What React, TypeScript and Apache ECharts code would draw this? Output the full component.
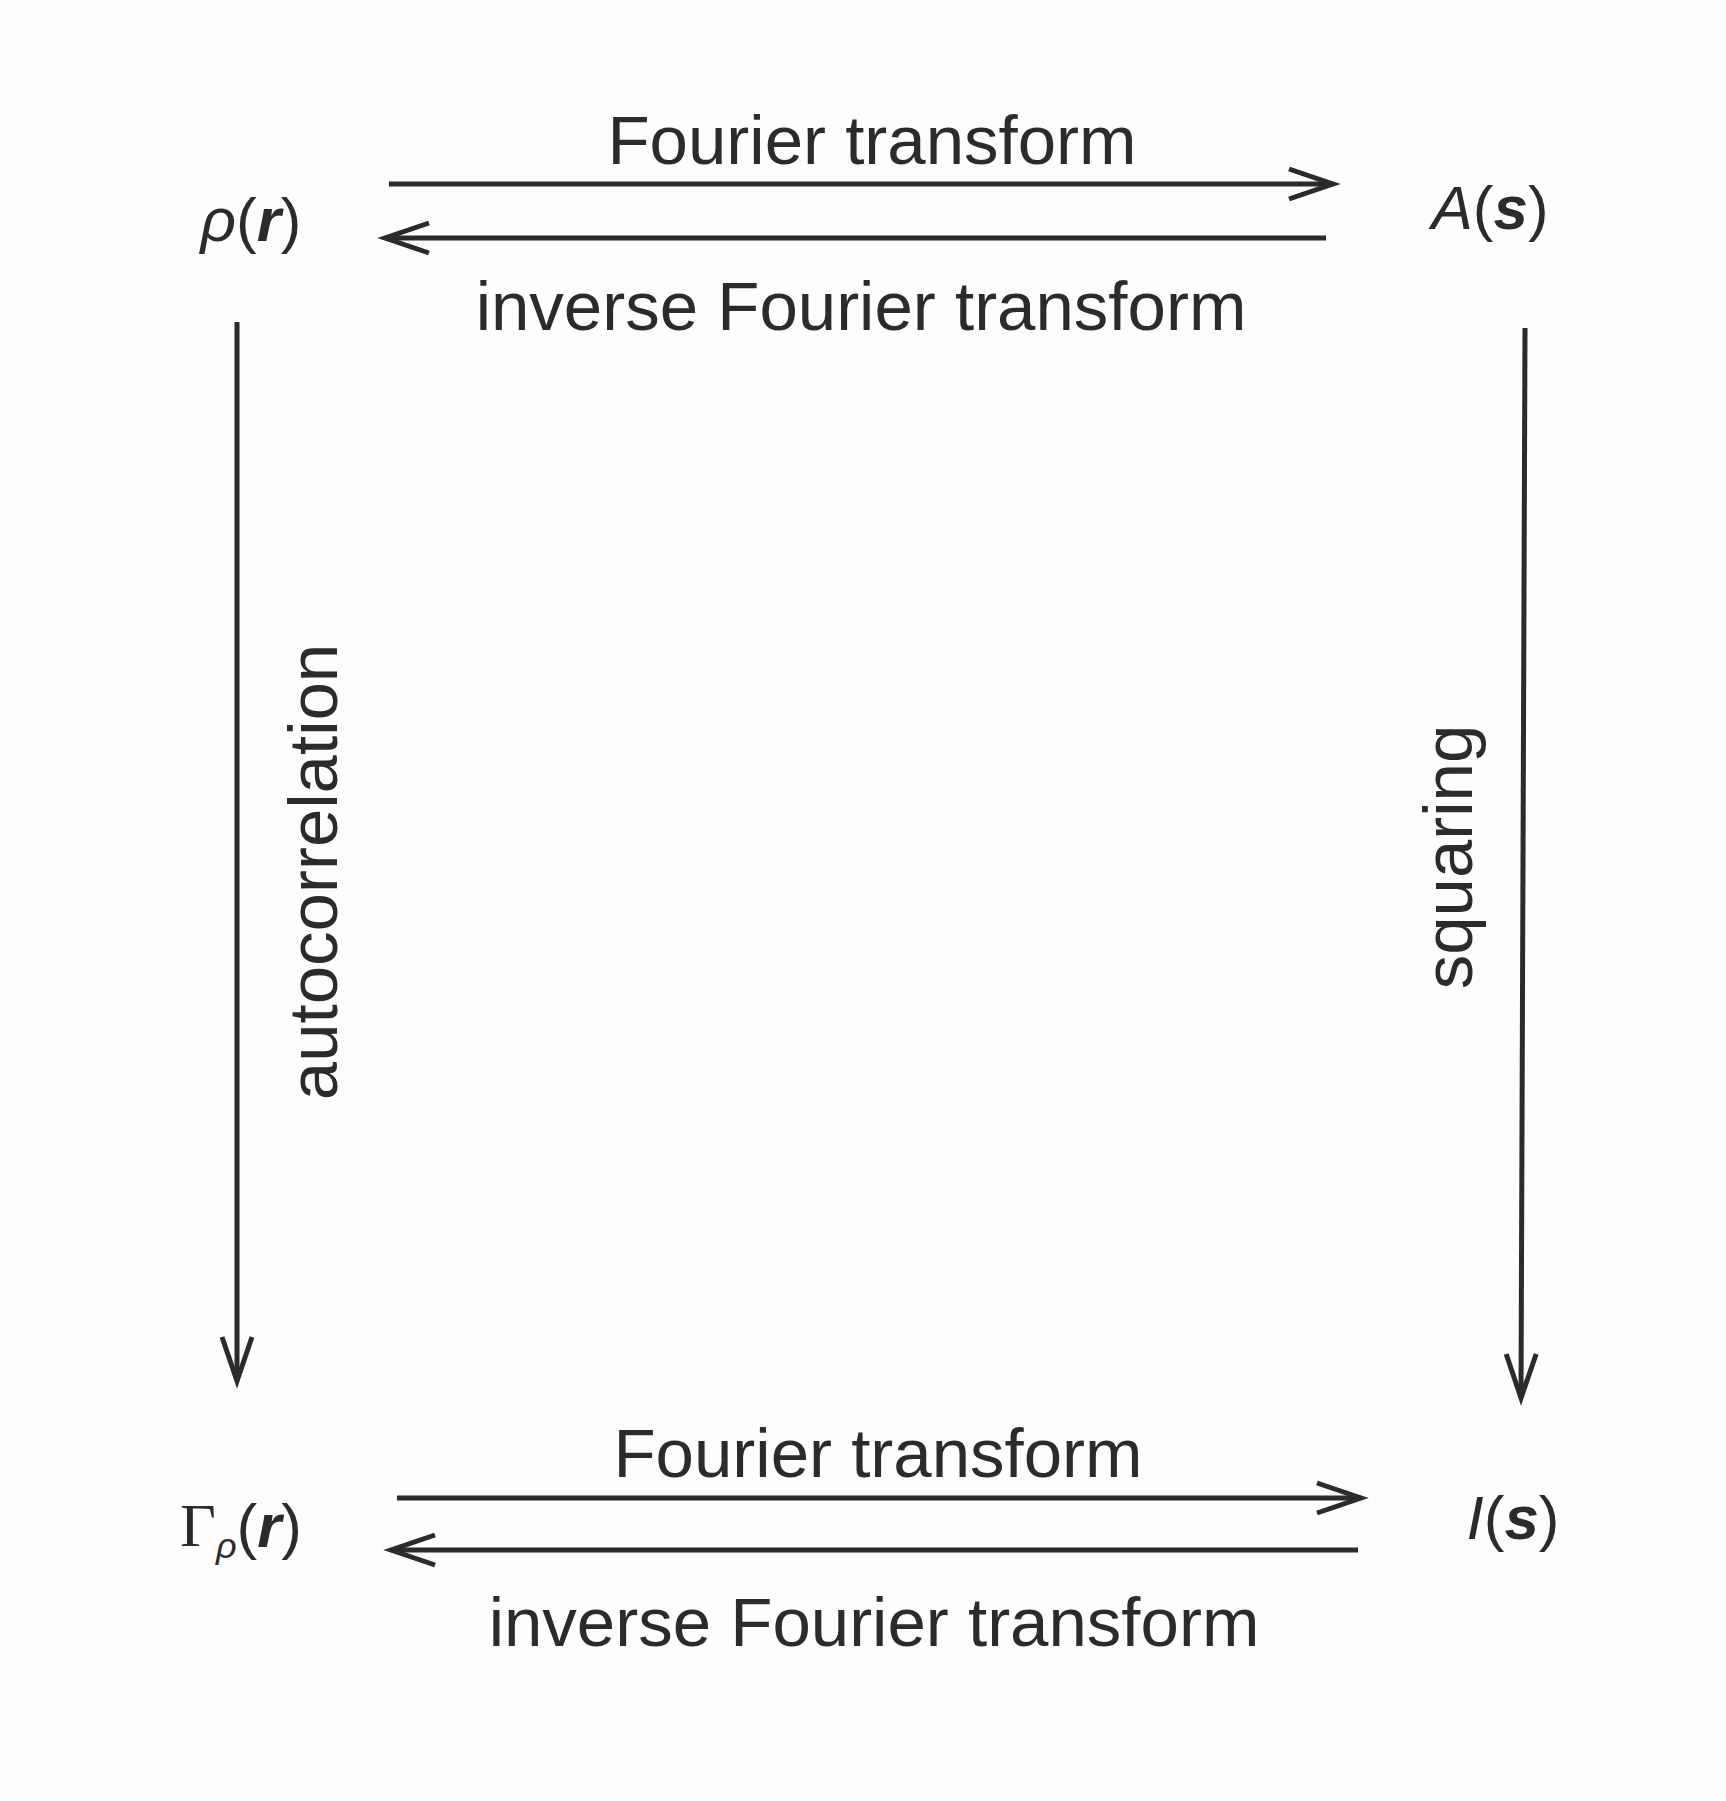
import { useEffect, useRef } from 'react';
import * as echarts from 'echarts';

const edgeLabels = ['Fourier transform', 'inverse Fourier transform', 'autocorrelation', 'squaring'];
const font = 'Arial, "Liberation Sans", Helvetica, sans-serif';
const ink = '#2b2b2b';

function arrow(x1: number, y1: number, x2: number, y2: number): any[] {
  const ang = Math.atan2(y2 - y1, x2 - x1);
  const L = 44;
  const W = 15;
  const bx = x2 - L * Math.cos(ang);
  const by = y2 - L * Math.sin(ang);
  const px = -Math.sin(ang) * W;
  const py = Math.cos(ang) * W;
  return [
    { type: 'line', shape: { x1, y1, x2, y2 }, style: { stroke: ink, lineWidth: 5 } },
    {
      type: 'polyline',
      shape: { points: [[bx + px, by + py], [x2, y2], [bx - px, by - py]] },
      style: { stroke: ink, lineWidth: 5, fill: null }
    }
  ];
}

function label(text: string, x: number, y: number, rotation = 0) {
  return {
    type: 'text',
    x,
    y,
    rotation,
    style: { text, font: `69px ${font}`, fill: ink, align: 'center', verticalAlign: 'middle' }
  };
}

function node(rich: string, x: number, y: number) {
  return {
    type: 'text',
    x,
    y,
    style: {
      text: rich,
      align: 'center',
      verticalAlign: 'middle',
      fill: ink,
      font: `62px ${font}`,
      rich: {
        i: { font: `italic 62px ${font}`, fill: ink },
        b: { font: `italic bold 62px ${font}`, fill: ink },
        n: { font: `62px ${font}`, fill: ink },
        g: { font: `62px "Liberation Serif", serif`, fill: ink },
        sub: { font: `italic 36px ${font}`, fill: ink, padding: [40, 0, 0, 0] }
      }
    }
  };
}

export default function App() {
  const ref = useRef<HTMLDivElement>(null);

  useEffect(() => {
    if (!ref.current) return;
    const chart = echarts.init(ref.current, null, { renderer: 'svg' });
    chart.setOption({
      animation: false,
      backgroundColor: '#fdfdfb',
      graphic: [
        ...arrow(389, 184, 1333, 184),
        ...arrow(1326, 238, 385, 238),
        ...arrow(237, 322, 237, 1381),
        ...arrow(1525, 328, 1521, 1398),
        ...arrow(397, 1498, 1361, 1498),
        ...arrow(1358, 1550, 391, 1550),
        label(edgeLabels[0], 872, 140),
        label(edgeLabels[1], 861, 306),
        label(edgeLabels[2], 313, 872, Math.PI / 2),
        label(edgeLabels[3], 1448, 857, Math.PI / 2),
        label(edgeLabels[0], 878, 1453),
        label(edgeLabels[1], 874, 1622),
        node('{i|ρ}{n|(}{b|r}{n|)}', 251, 219),
        node('{i|A}{n|(}{b|s}{n|)}', 1490, 207),
        node('{g|Γ}{sub|ρ}{n|(}{b|r}{n|)}', 241, 1525),
        node('{i|I}{n|(}{b|s}{n|)}', 1513, 1517)
      ]
    });
    return () => chart.dispose();
  }, []);

  return (
    <div
      ref={ref}
      style={{ position: 'fixed', left: 0, top: 0, width: 1726, height: 1801 }}
    />
  );
}
